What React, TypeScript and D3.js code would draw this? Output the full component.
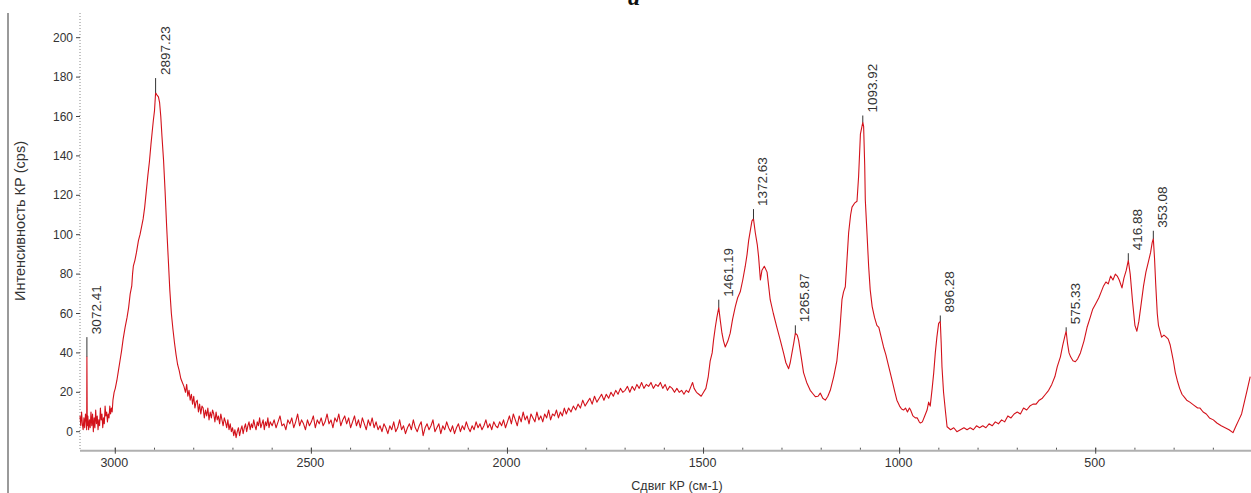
import React from "react";
import * as d3 from "d3";

// Raman spectrum: [shift cm-1, intensity cps]
const spectrum: [number, number][] = [
  [3090, 8], [3088, 3], [3086, 10], [3084, 4], [3082, 1], [3080, 7], [3078, 2], [3076, 9], [3074, 5], [3073, 1],
  [3072.41, 38], [3071.5, 3], [3070, 8], [3068, 1], [3066, 6], [3064, 2], [3062, 10], [3060, 3], [3058, 9], [3056, 0],
  [3054, 7], [3052, 2], [3050, 11], [3048, 4], [3046, 8], [3044, 1], [3042, 6], [3040, 3], [3038, 12], [3036, 6],
  [3034, 9], [3032, 2], [3030, 7], [3028, 4], [3026, 13], [3024, 8], [3022, 10], [3020, 5], [3018, 9], [3016, 7],
  [3014, 13], [3012, 9], [3010, 12], [3008, 10], [3006, 16],
  [3003, 20], [3000, 22], [2996, 26], [2992, 31], [2988, 36], [2984, 41], [2980, 47], [2975, 53], [2970, 58],
  [2966, 63], [2962, 70], [2958, 74], [2956, 80], [2954, 84], [2950, 87], [2946, 91], [2941, 97], [2937, 100], [2933, 104],
  [2929, 108], [2925, 114], [2921, 122], [2919, 126], [2917, 130], [2913, 137], [2909, 146], [2906, 152], [2903, 158],
  [2900, 163], [2897.23, 172], [2894, 171], [2890, 170], [2887, 167], [2884, 160], [2881, 150], [2877, 138],
  [2873, 122], [2869, 104], [2865, 88], [2861, 72], [2857, 60], [2853, 52], [2849, 45], [2845, 39], [2841, 34],
  [2837, 31], [2833, 27], [2829, 25], [2825, 23],
  [2821, 20], [2818, 24], [2815, 18], [2812, 21], [2809, 16], [2806, 19], [2803, 14], [2800, 18], [2797, 12],
  [2794, 15], [2791, 16], [2788, 10], [2785, 14], [2782, 9], [2779, 13], [2776, 12], [2773, 7], [2770, 11],
  [2767, 8], [2764, 12], [2761, 6], [2758, 10], [2755, 7], [2752, 11], [2749, 9], [2746, 5], [2743, 10], [2740, 6],
  [2737, 8], [2734, 4], [2731, 9], [2728, 6], [2725, 3], [2722, 7], [2719, 5], [2716, 2], [2713, 6], [2710, 1],
  [2707, 4], [2704, 0], [2701, 2], [2698, -2], [2695, 1], [2692, -3], [2689, 0], [2686, 2], [2683, -2], [2680, 1],
  [2677, 3], [2674, -1], [2671, 2], [2668, 4], [2665, 0], [2662, 3], [2659, 5], [2656, 1], [2653, 4], [2650, 2],
  [2647, 6], [2644, 3], [2641, 1], [2638, 5], [2635, 3], [2632, 7], [2629, 2], [2626, 4], [2623, 6], [2620, 1],
  [2617, 5], [2614, 3], [2611, 7], [2608, 2], [2605, 5],
  [2600, 3], [2595, 6], [2590, 2], [2585, 5], [2580, 8], [2575, 3], [2570, 4], [2565, 1], [2560, 6], [2555, 4],
  [2550, 7], [2545, 2], [2540, 5], [2535, 9], [2530, 3], [2525, 6], [2520, 4], [2515, 1], [2510, 6], [2505, 3],
  [2500, 5], [2495, 8], [2490, 2], [2485, 6], [2480, 4], [2475, 7], [2470, 3], [2465, 5], [2460, 9], [2455, 4],
  [2450, 6], [2445, 2], [2440, 7], [2435, 5], [2430, 9], [2425, 3], [2420, 6], [2415, 8], [2410, 4], [2405, 7],
  [2400, 2], [2395, 5], [2390, 8], [2385, 3], [2380, 6], [2375, 2], [2370, 7], [2365, 4], [2360, 1], [2355, 6],
  [2350, 3], [2345, 7], [2340, 2], [2335, 5], [2330, 1], [2325, 3], [2320, 0], [2315, 4], [2310, 2], [2305, -1],
  [2300, 3], [2295, 1], [2290, 5], [2285, 0], [2280, 2], [2275, 6], [2270, 1], [2265, 3], [2260, -1], [2255, 2],
  [2250, 4], [2245, 1], [2240, 6], [2235, 2], [2230, 0], [2225, 3], [2220, 5], [2215, -2], [2210, 2], [2205, 4],
  [2200, 1], [2195, 3], [2190, 6], [2185, 0], [2180, 2], [2175, 4], [2170, -1], [2165, 3], [2160, 1], [2155, 5],
  [2150, 2], [2145, 0], [2140, 3], [2135, -1], [2130, 2], [2125, 4], [2120, 0], [2115, 3], [2110, 1], [2105, 5],
  [2100, 2], [2095, 0], [2090, 3], [2085, 1], [2080, 5], [2075, 2], [2070, 4], [2065, 1], [2060, 3], [2055, 6],
  [2050, 2], [2045, 4], [2040, 1], [2035, 5], [2030, 3], [2025, 2], [2020, 5], [2015, 3], [2010, 6], [2005, 2],
  [2000, 5], [1995, 8], [1990, 4], [1985, 9], [1980, 6], [1975, 3], [1970, 8], [1965, 5], [1960, 10], [1955, 6],
  [1950, 8], [1945, 4], [1940, 9], [1935, 7], [1930, 5], [1925, 10], [1920, 6], [1915, 8], [1910, 5], [1905, 9],
  [1900, 7], [1895, 11], [1890, 6], [1885, 9], [1880, 8], [1875, 11], [1870, 7], [1865, 10], [1860, 8], [1855, 12],
  [1850, 9], [1844, 12], [1838, 10], [1832, 13], [1826, 11], [1820, 14], [1814, 12], [1808, 16], [1802, 13],
  [1796, 15], [1790, 17], [1784, 14], [1778, 18], [1772, 15], [1766, 17], [1760, 19], [1754, 16], [1748, 19],
  [1742, 17], [1736, 20], [1730, 18], [1724, 21], [1718, 19], [1712, 22], [1706, 20], [1700, 21],
  [1694, 23], [1688, 20], [1682, 23], [1676, 21], [1670, 24], [1664, 22], [1658, 25], [1652, 22], [1646, 24],
  [1640, 23], [1634, 25], [1628, 22], [1622, 24], [1616, 23], [1610, 25], [1604, 22], [1598, 24], [1592, 21],
  [1586, 23], [1580, 22], [1574, 20], [1568, 22], [1562, 20], [1556, 21], [1550, 19], [1544, 21], [1538, 20],
  [1532, 23], [1528, 25], [1524, 22], [1518, 20], [1512, 19], [1506, 18], [1500, 20],
  [1494, 22], [1488, 28], [1483, 36], [1478, 40], [1474.5, 46.5], [1470, 53], [1466, 58], [1461.19, 63],
  [1457, 56], [1453, 50], [1449, 46], [1444.6, 43], [1438, 46], [1432, 50], [1426, 57], [1419, 63.5], [1413, 68],
  [1406.4, 71], [1400, 77], [1393.6, 84], [1389, 90], [1385, 97], [1380, 103], [1376.5, 107], [1372.63, 108],
  [1368, 101], [1363, 95], [1359.7, 89], [1355, 77], [1351, 82], [1345, 84], [1338, 81], [1334, 74], [1330, 67],
  [1322, 60], [1313, 53], [1305, 47], [1296, 40], [1290, 35], [1283, 32], [1279, 35], [1274.5, 40], [1270, 45],
  [1265.87, 50], [1261, 49], [1257.6, 46.5], [1251, 38], [1245, 30], [1237, 25], [1228, 21], [1220, 19],
  [1215, 17.8], [1208, 18], [1202.3, 19.6], [1196, 17], [1189.5, 16], [1183, 18], [1176.8, 21], [1168, 28],
  [1160, 36], [1153, 50], [1147, 67], [1143, 71], [1138.5, 73.6], [1134, 88], [1130, 101], [1125, 110],
  [1121.4, 114], [1115, 116], [1108.7, 117], [1104.6, 129.5], [1100, 151], [1096, 155], [1093.92, 157],
  [1091.8, 155], [1089, 135], [1087.5, 117.6], [1083, 100], [1079, 84], [1075, 72], [1070, 63.5], [1064, 58],
  [1058, 54], [1053, 53], [1047, 48], [1041, 43], [1035, 39], [1029, 34], [1024, 30], [1018, 25], [1012, 20],
  [1007, 16], [1000, 13], [995, 11.5], [990, 11], [985, 12], [980, 10], [975, 12], [972, 11], [966, 8],
  [960, 7], [955, 7], [950, 5], [947, 4.4], [942, 5], [936, 8], [930, 11], [926, 15], [922, 13], [917, 22],
  [913, 30], [909, 40], [905, 48], [900.5, 55], [896.28, 56], [894, 45], [892, 33], [888, 20], [883.5, 11],
  [879, 2.5], [870, 1], [862, 2], [854, 0], [845, 1], [836, 2], [828, 1], [820, 2], [812, 1], [804, 3], [796, 2],
  [788, 3], [780, 2], [772, 4], [764, 3], [756, 5], [748, 4], [740, 6], [732, 5], [724, 8], [716, 7], [708, 9],
  [700, 10], [692, 9], [684, 12], [676, 11], [668, 13], [660, 14], [652, 14], [644, 16], [636, 17], [628, 19],
  [620, 21], [612, 24], [604, 28], [598, 33], [590, 38], [584, 44], [578, 49], [575.33, 51], [572, 45],
  [568, 40], [564, 38], [558, 36], [552, 35.5], [546, 37], [539, 40], [530, 46], [522, 53], [514, 58], [508, 62],
  [500, 65], [492, 68], [486, 71], [480, 74], [474, 76], [468, 75], [462, 79], [456, 77], [450, 80], [445, 79],
  [440, 77], [433, 73], [428, 78], [422, 82], [416.88, 87], [412, 80], [406, 66], [400, 54], [395, 51],
  [390, 56], [384, 65], [378, 74], [372, 81], [366, 86], [360, 91], [356, 96], [353.08, 98], [350, 88],
  [347, 75], [343, 60], [340, 54], [336, 51], [332, 48], [326, 49], [320, 48], [315, 47], [310, 44], [306, 40],
  [302, 36], [297, 30], [292, 26], [286, 22], [280, 19], [272, 17], [268, 16], [260, 15], [250, 13.5],
  [240, 12], [234, 12], [226, 10], [218, 9], [210, 7], [200, 6], [191, 4.4], [180, 3], [170, 2], [160, 1],
  [150, -0.5], [142, 3], [135, 6], [128, 9], [121, 15], [114, 21], [106, 28],
];

// Peak annotations
const peakShifts: number[] = [3072.41, 2897.23, 1461.19, 1372.63, 1265.87, 1093.92, 896.28, 575.33, 416.88, 353.08];
const peakValues: number[] = [38, 172, 63, 108, 50, 157, 56, 51, 87, 98];
const peakMarkTops: number[] = [48, 179.5, 67, 113, 54, 160.5, 59, 53, 90.6, 102];

const yTicks: number[] = [0, 20, 40, 60, 80, 100, 120, 140, 160, 180, 200];
const xTicks: number[] = [3000, 2500, 2000, 1500, 1000, 500];
const xMinorTicks: number[] = [3000, 2900, 2800, 2700, 2600, 2500, 2400, 2300, 2200, 2100, 2000, 1900, 1800, 1700, 1600, 1500, 1400, 1300, 1200, 1100, 1000, 900, 800, 700, 600, 500, 400, 300, 200];

const FONT = "'Liberation Sans', Arial, sans-serif";

export default function App() {
  const W = 1251;
  const H = 493;
  const x = d3.scaleLinear().domain([3090, 104]).range([80, 1251]);
  const y = d3.scaleLinear().domain([0, 200]).range([431.7, 37.7]);
  const axisY = 450.7;
  const topY = 13;

  const line = d3
    .line<[number, number]>()
    .x((d) => x(d[0]))
    .y((d) => y(d[1]));

  return (
    <div style={{ position: "absolute", left: 0, top: 0, width: W, height: H, background: "#fff" }}>
      <svg width={W} height={H} style={{ display: "block" }}>
        <rect x={0} y={0} width={W} height={H} fill="#fff" />
        {/* left page border */}
        <line x1={8} x2={8} y1={topY} y2={H} stroke="#9a9a9a" strokeWidth={2} />
        {/* title fragment (cut by the top edge, as in the source) */}
        <text x={634} y={5} textAnchor="middle" fontFamily="'Liberation Serif', serif" fontSize={24} fontWeight="bold" fontStyle="italic" fill="#111">
          a
        </text>

        {/* y axis */}
        <line x1={80} x2={80} y1={topY} y2={axisY} stroke="#888" strokeWidth={1} strokeDasharray="1 2" />
        {yTicks.map((t) => (
          <g key={"y" + t}>
            <line x1={76} x2={80} y1={y(t)} y2={y(t)} stroke="#444" strokeWidth={1} />
            <text x={73} y={y(t) + 4} textAnchor="end" fontFamily={FONT} fontSize={12} fill="#333">
              {t}
            </text>
          </g>
        ))}

        {/* x axis */}
        <line x1={80} x2={W} y1={axisY} y2={axisY} stroke="#b0b0b0" strokeWidth={2} />
        {xMinorTicks.map((t) => (
          <line key={"xm" + t} x1={x(t)} x2={x(t)} y1={axisY - 3} y2={axisY - 1} stroke="#555" strokeWidth={1} />
        ))}
        {xTicks.map((t) => (
          <g key={"x" + t}>
            <line x1={x(t)} x2={x(t)} y1={axisY - 3} y2={axisY + 3} stroke="#444" strokeWidth={1} />
            <text x={x(t) - 1} y={467} textAnchor="middle" fontFamily={FONT} fontSize={12.5} fill="#333">
              {t}
            </text>
          </g>
        ))}

        {/* axis titles */}
        <text x={677} y={490} textAnchor="middle" fontFamily={FONT} fontSize={12.5} fill="#333">
          Сдвиг КР (см-1)
        </text>
        <text transform={`translate(25, 221) rotate(-90)`} textAnchor="middle" fontFamily={FONT} fontSize={14.5} fill="#333">
          Интенсивность КР (cps)
        </text>

        {/* spectrum */}
        <path d={line(spectrum) || ""} fill="none" stroke="#d3121b" strokeWidth={1.1} strokeLinejoin="round" />

        {/* peak markers and labels */}
        {peakShifts.map((p, i) => {
          const px = x(p);
          const top = y(peakMarkTops[i]);
          return (
            <g key={"p" + p}>
              <line x1={px} x2={px} y1={y(peakValues[i])} y2={top} stroke="#333" strokeWidth={1} />
              <text transform={`translate(${px + 14}, ${top - 3}) rotate(-90)`} textAnchor="start" fontFamily={FONT} fontSize={13.5} fill="#333">
                {p.toFixed(2)}
              </text>
            </g>
          );
        })}
      </svg>
    </div>
  );
}
